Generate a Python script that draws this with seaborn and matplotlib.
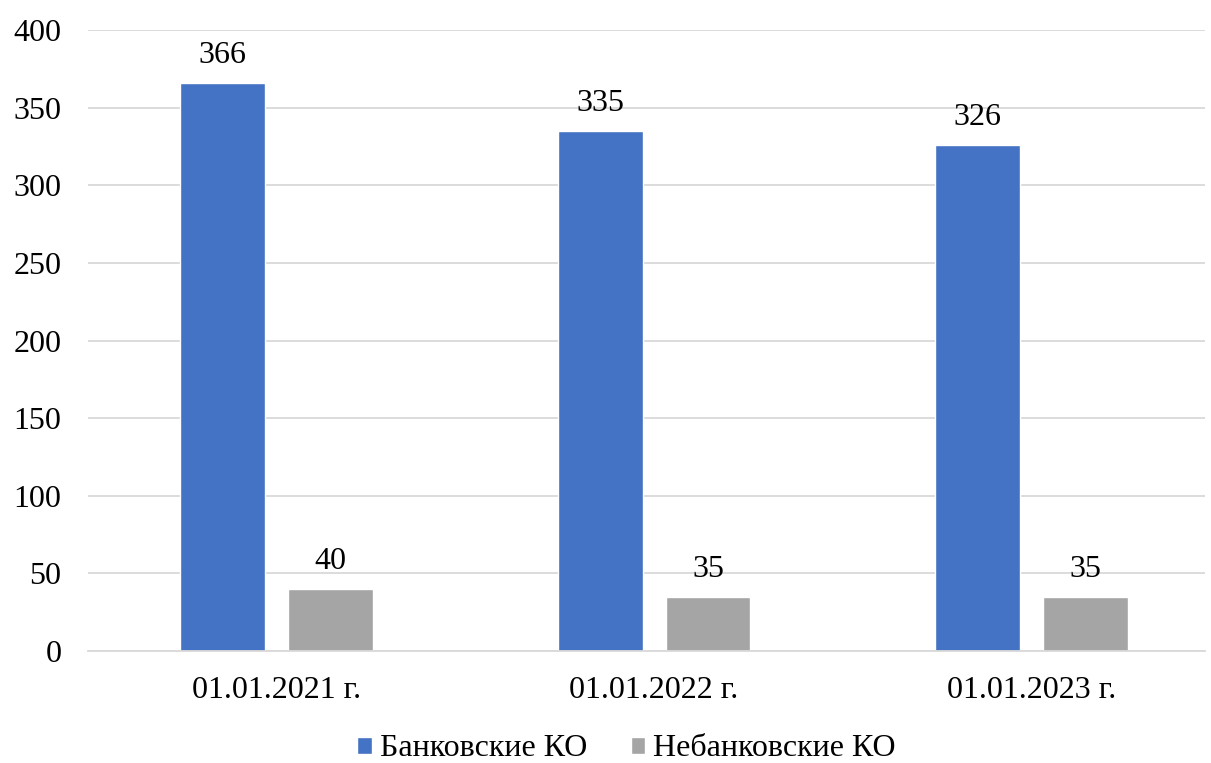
import seaborn as sns
import matplotlib.pyplot as plt
import pandas as pd

dates = ['01.01.2021 г.', '01.01.2022 г.', '01.01.2023 г.']
banks = [366, 335, 326]
nonbanks = [40, 35, 35]
series_names = ['Банковские КО', 'Небанковские КО']
colors = ['#4472C4', '#A5A5A5']

df = pd.DataFrame({
    'date': dates * 2,
    'value': banks + nonbanks,
    'kind': [series_names[0]] * 3 + [series_names[1]] * 3,
})

sns.set_style('white')
plt.rcParams['font.family'] = ['Liberation Serif', 'DejaVu Serif']
plt.rcParams['text.color'] = 'black'
plt.rcParams['xtick.color'] = 'black'
plt.rcParams['ytick.color'] = 'black'

fig = plt.figure(figsize=(12.11, 7.63), dpi=100)
ax = fig.add_axes([88 / 1211, 1 - 651 / 763, 1117 / 1211, 621 / 763])

sns.barplot(data=df, x='date', y='value', hue='kind', palette=colors,
            width=0.572, gap=0.213, saturation=1, ax=ax, legend=True)

for cont in ax.containers:
    ax.bar_label(cont, padding=9, fontsize=23, color='black')

ax.set_ylim(0, 400)
ax.set_xlim(-0.5, 2.46)
ax.set_yticks(range(0, 401, 50))
ax.yaxis.grid(True, color='#D9D9D9', linewidth=1.3)
ax.set_axisbelow(True)
for s in ['top', 'right', 'left']:
    ax.spines[s].set_visible(False)
ax.spines['bottom'].set_color('#D9D9D9')
ax.spines['bottom'].set_linewidth(1.3)
ax.tick_params(axis='both', labelsize=23, length=0)
ax.tick_params(axis='x', pad=18)
ax.tick_params(axis='y', pad=19)
ax.set_xlabel('')
ax.set_ylabel('')

handles, labels = ax.get_legend_handles_labels()
ax.legend(handles, labels, loc='center', bbox_to_anchor=(0.5 - 20 / 1117, -98 / 621),
          ncol=2, frameon=False, fontsize=23, handlelength=0.45, handleheight=0.45,
          handletextpad=0.25, columnspacing=1.37)

fig.savefig('out.png', dpi=100)
